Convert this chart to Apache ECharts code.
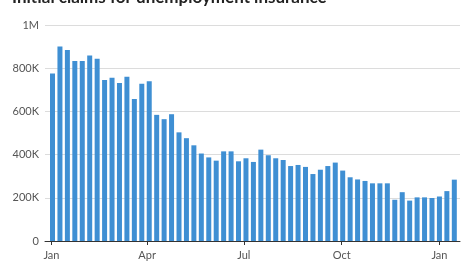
<!DOCTYPE html>
<html>
<head>
<meta charset="utf-8">
<script src="https://cdn.jsdelivr.net/npm/echarts@6/dist/echarts.min.js"></script>
<style>
html,body{margin:0;padding:0;background:#fff;}
#chart{width:472px;height:266px;}
</style>
</head>
<body>
<div id="chart"></div>
<script>
var titleText = 'Initial claims for unemployment insurance';
var weekEnding = [
  '2021-01-02','2021-01-09','2021-01-16','2021-01-23','2021-01-30',
  '2021-02-06','2021-02-13','2021-02-20','2021-02-27',
  '2021-03-06','2021-03-13','2021-03-20','2021-03-27',
  '2021-04-03','2021-04-10','2021-04-17','2021-04-24',
  '2021-05-01','2021-05-08','2021-05-15','2021-05-22','2021-05-29',
  '2021-06-05','2021-06-12','2021-06-19','2021-06-26',
  '2021-07-03','2021-07-10','2021-07-17','2021-07-24','2021-07-31',
  '2021-08-07','2021-08-14','2021-08-21','2021-08-28',
  '2021-09-04','2021-09-11','2021-09-18','2021-09-25',
  '2021-10-02','2021-10-09','2021-10-16','2021-10-23','2021-10-30',
  '2021-11-06','2021-11-13','2021-11-20','2021-11-27',
  '2021-12-04','2021-12-11','2021-12-18','2021-12-25',
  '2022-01-01','2022-01-08','2022-01-15'
];
var claims = [
  776000,900000,884000,833000,833000,859000,844000,745000,756000,732000,
  760000,657000,728000,740000,584000,564000,587000,503000,476000,443000,
  405000,387000,372000,415000,415000,369000,383000,366000,423000,397000,
  383000,375000,347000,352000,343000,310000,330000,347000,363000,326000,
  295000,285000,278000,267000,267000,267000,191000,226000,187000,202000,
  202000,199000,206000,231000,284000
];
var monthNames = ['Jan','Feb','Mar','Apr','May','Jun','Jul','Aug','Sep','Oct','Nov','Dec'];

var seriesData = weekEnding.map(function(d, i){ return [d, claims[i]]; });

var DAY = 86400000;
var chart = echarts.init(document.getElementById('chart'), null, {renderer:'canvas'});
chart.setOption({
  animation: false,
  textStyle: {fontFamily: 'Lato, "Open Sans", sans-serif'},
  graphic: [{
    type: 'text',
    left: 12,
    top: -11,
    style: {
      text: titleText,
      font: 'bold 17px Lato, "Open Sans", sans-serif',
      fill: '#222'
    }
  }],
  grid: {left: 45, right: 12, top: 25, bottom: 25, containLabel: false},
  xAxis: {
    type: 'time',
    min: '2020-12-28 07:00',
    max: '2022-01-18',
    minInterval: 92 * DAY,
    maxInterval: 100 * DAY,
    axisLine: {show: true, lineStyle: {color: '#333', width: 1}},
    axisTick: {show: true, length: 4, lineStyle: {color: '#333'}},
    splitLine: {show: false},
    axisLabel: {
      color: '#555',
      fontSize: 11,
      margin: 9,
      hideOverlap: false,
      formatter: function(v){ return monthNames[new Date(v).getMonth()]; }
    }
  },
  yAxis: {
    type: 'value',
    min: 0,
    max: 1000000,
    interval: 200000,
    axisLine: {show: false},
    axisTick: {show: false},
    splitLine: {lineStyle: {color: '#dcdcdc', width: 1}},
    axisLabel: {
      color: '#555',
      fontSize: 11,
      margin: 6,
      formatter: function(v){
        if (v === 0) return '0';
        if (v >= 1000000) return (v/1000000) + 'M';
        return (v/1000) + 'K';
      }
    }
  },
  series: [{
    type: 'bar',
    data: seriesData,
    barWidth: 5,
    itemStyle: {color: '#3f8fd3'}
  }]
});
</script>
</body>
</html>
